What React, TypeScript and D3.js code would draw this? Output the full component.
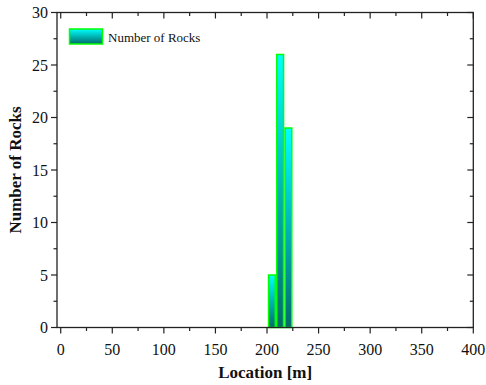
import * as d3 from 'd3'
import React from 'react'

// histogram bins (left edge in m) and counts
const binStarts = [201, 209, 217]
const binWidth = 8
const counts = [5, 26, 19]

const xTicks = [0, 50, 100, 150, 200, 250, 300, 350, 400]
const yTicks = [0, 5, 10, 15, 20, 25, 30]

const W = 486
const H = 385
const margin = { top: 12.5, right: 12.7, bottom: 57.5, left: 57 }

const App = () => {
  const x = d3.scaleLinear().domain([-3.6, 400]).range([margin.left, W - margin.right])
  const y = d3.scaleLinear().domain([0, 30]).range([H - margin.bottom, margin.top])
  const x0 = margin.left, x1 = W - margin.right
  const y0 = H - margin.bottom, y1 = margin.top

  const xMinor = d3.range(25, 400, 50)
  const yMinor = d3.range(2.5, 30, 5)
  const font = '"Liberation Serif", "Times New Roman", serif'

  return (
    <svg width={W} height={H} style={{ position: 'absolute', left: 0, top: 0, background: '#fff' }}>
      <defs>
        <linearGradient id="barGrad" x1="0" y1="0" x2="0" y2="1">
          <stop offset="0%" stopColor="#00ffff" />
          <stop offset="100%" stopColor="#006a6a" />
        </linearGradient>
      </defs>

      {counts.map((c, i) => (
        <rect key={i}
          x={x(binStarts[i]) + 0.5}
          y={y(c)}
          width={x(binStarts[i] + binWidth) - x(binStarts[i]) - 1.5}
          height={y(0) - y(c)}
          fill="url(#barGrad)" stroke="#00ff00" strokeWidth={1.5} />
      ))}

      {/* frame */}
      <rect x={x0} y={y1} width={x1 - x0} height={y0 - y1} fill="none" stroke="#222" strokeWidth={1.3} />

      {/* bottom axis: outward ticks, top: inward */}
      {xTicks.map(t => (
        <g key={'xt' + t}>
          <line x1={x(t)} x2={x(t)} y1={y0} y2={y0 + 6} stroke="#222" strokeWidth={1.2} />
          <line x1={x(t)} x2={x(t)} y1={y1} y2={y1 + 6} stroke="#222" strokeWidth={1.2} />
          <text x={x(t)} y={y0 + 27} textAnchor="middle" fontFamily={font} fontSize={16} fill="#111">{t}</text>
        </g>
      ))}
      {xMinor.map(t => (
        <g key={'xm' + t}>
          <line x1={x(t)} x2={x(t)} y1={y0} y2={y0 + 3.5} stroke="#222" strokeWidth={1.2} />
          <line x1={x(t)} x2={x(t)} y1={y1} y2={y1 + 3.5} stroke="#222" strokeWidth={1.2} />
        </g>
      ))}

      {/* left axis outward ticks, right inward */}
      {yTicks.map(t => (
        <g key={'yt' + t}>
          <line x1={x0} x2={x0 - 6} y1={y(t)} y2={y(t)} stroke="#222" strokeWidth={1.2} />
          <line x1={x1} x2={x1 - 6} y1={y(t)} y2={y(t)} stroke="#222" strokeWidth={1.2} />
          <text x={x0 - 9} y={y(t)} dy="0.35em" textAnchor="end" fontFamily={font} fontSize={16} fill="#111">{t}</text>
        </g>
      ))}
      {yMinor.map(t => (
        <g key={'ym' + t}>
          <line x1={x0} x2={x0 - 3.5} y1={y(t)} y2={y(t)} stroke="#222" strokeWidth={1.2} />
          <line x1={x1} x2={x1 - 3.5} y1={y(t)} y2={y(t)} stroke="#222" strokeWidth={1.2} />
        </g>
      ))}

      <text x={(x0 + x1) / 2} y={378} textAnchor="middle" fontFamily={font} fontSize={17} fontWeight="bold" fill="#111">Location [m]</text>
      <text transform={`translate(21, ${(y0 + y1) / 2}) rotate(-90)`} textAnchor="middle" fontFamily={font} fontSize={17} fontWeight="bold" fill="#111">Number of Rocks</text>

      {/* legend */}
      <rect x={69.5} y={29} width={33} height={15} fill="url(#barGrad)" stroke="#00ff00" strokeWidth={1.5} />
      <text x={108} y={37} dy="0.35em" fontFamily={font} fontSize={13} fill="#111">Number of Rocks</text>
    </svg>
  )
}

export default App
